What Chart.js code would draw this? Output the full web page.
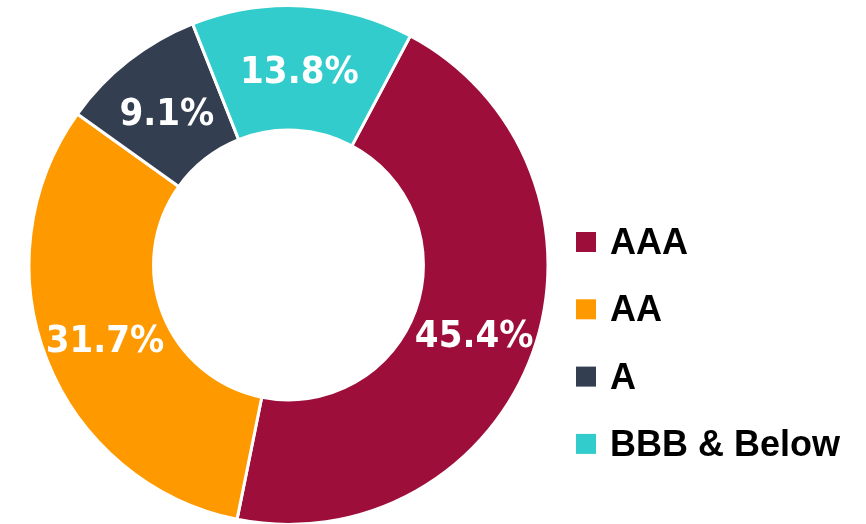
<!DOCTYPE html>
<html>
<head>
<meta charset="utf-8">
<script src="https://cdn.jsdelivr.net/npm/chart.js@4/dist/chart.umd.min.js"></script>
<style>
    html, body { margin: 0; padding: 0; background: #fff; overflow: hidden; }
    #wrap { width: 866px; height: 524px; position: relative; }
</style>
</head>
<body>
<div id="wrap"><canvas id="ratingChart"></canvas></div>
<script>
const ratings = ['AAA', 'AA', 'A', 'BBB & Below'];
const shares = [45.4, 31.7, 9.1, 13.8];
const sliceColors = ['#9E0E3A', '#FF9900', '#333F50', '#33CCCC'];

// percentages drawn in white on each slice
const sliceLabels = {
    id: 'sliceLabels',
    afterDatasetsDraw(chart) {
        const ctx = chart.ctx;
        const meta = chart.getDatasetMeta(0);
        ctx.save();
        ctx.fillStyle = '#fff';
        ctx.font = 'bold 38px "DejaVu Sans Condensed", "DejaVu Sans", sans-serif';
        ctx.textAlign = 'center';
        ctx.textBaseline = 'alphabetic';
        meta.data.forEach((arc, i) => {
            const p = arc.tooltipPosition();
            ctx.fillText(shares[i].toFixed(1) + '%', p.x, p.y + 15);
        });
        ctx.restore();
    }
};

// legend on the right
const sideLegend = {
    id: 'sideLegend',
    afterDraw(chart) {
        const ctx = chart.ctx;
        const x = 576, top = 232, step = 67.3;
        ctx.save();
        ctx.font = 'bold 36px "Liberation Sans", Arial, sans-serif';
        ctx.textAlign = 'left';
        ctx.textBaseline = 'alphabetic';
        ratings.forEach((name, i) => {
            const y = top + i * step;
            ctx.fillStyle = sliceColors[i];
            ctx.fillRect(x, y, 20, 20);
            ctx.fillStyle = '#000';
            ctx.fillText(name, x + 34, y + 22);
        });
        ctx.restore();
    }
};

new Chart(document.getElementById('ratingChart'), {
    type: 'doughnut',
    data: {
        labels: ratings,
        datasets: [{
            data: shares,
            backgroundColor: sliceColors,
            borderColor: '#fff',
            borderWidth: 3
        }]
    },
    options: {
        responsive: true,
        maintainAspectRatio: false,
        animation: false,
        rotation: 28,
        radius: 259.5,
        cutout: '52%',
        layout: { padding: { top: 6, bottom: 0, left: 27, right: 316 } },
        plugins: {
            legend: { display: false },
            tooltip: { enabled: false }
        }
    },
    plugins: [sliceLabels, sideLegend]
});
</script>
</body>
</html>
